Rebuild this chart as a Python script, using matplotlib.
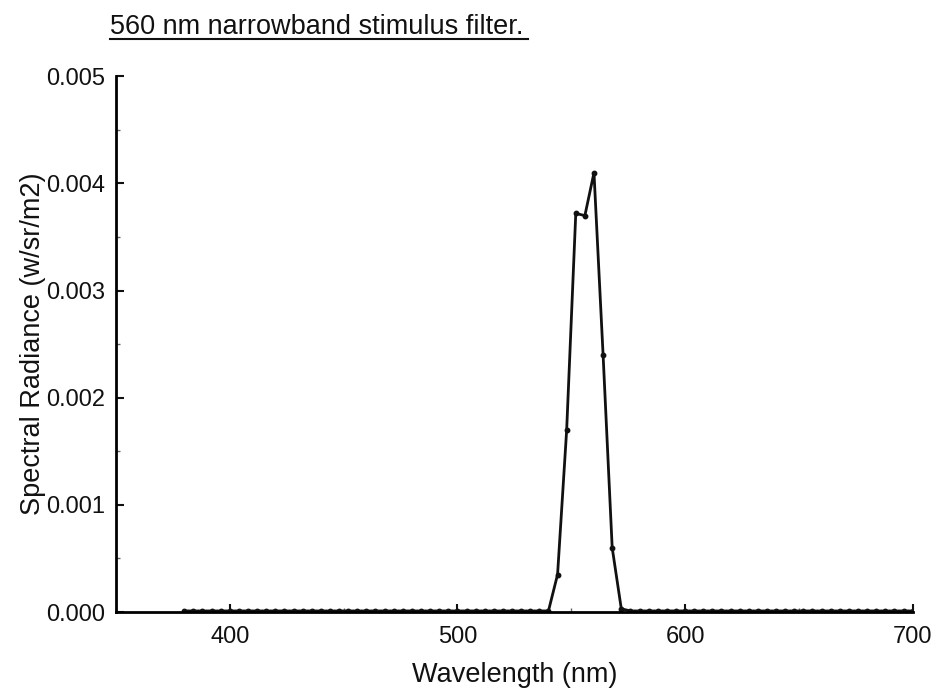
import matplotlib
matplotlib.use("Agg")
import matplotlib.pyplot as plt
from matplotlib.ticker import MultipleLocator

plt.rcParams['font.family'] = ['Liberation Sans', 'DejaVu Sans']

# region Data (4 nm steps)
wavelength = list(range(380, 704, 4))
# zero baseline except the band around 560 nm
peak_wl = [540, 544, 548, 552, 556, 560, 564, 568, 572]
peak_val = [0.00001, 0.00035, 0.0017, 0.00372, 0.0037, 0.0041, 0.0024, 0.0006, 0.00003]
baseline = 0.00001
# endregion

radiance = []
for w in wavelength:
    if w in peak_wl:
        radiance.append(peak_val[peak_wl.index(w)])
    else:
        radiance.append(baseline)

fig = plt.figure(figsize=(9.37, 7.0), dpi=100)
ax = fig.add_axes([0.1238, 0.1257, 0.8502, 0.7653])

ax.plot(wavelength, radiance, color='#111111', lw=2.0, marker='o', ms=3.2)

ax.set_xlim(350, 700)
ax.set_ylim(0, 0.005)
ax.xaxis.set_major_locator(MultipleLocator(100))
ax.xaxis.set_minor_locator(MultipleLocator(50))
ax.yaxis.set_major_locator(MultipleLocator(0.001))
ax.yaxis.set_minor_locator(MultipleLocator(0.0005))
ax.yaxis.set_major_formatter(plt.FuncFormatter(lambda v, p: '%.3f' % v))

ax.spines['top'].set_visible(False)
ax.spines['right'].set_visible(False)
ax.spines['left'].set_linewidth(2)
ax.spines['bottom'].set_linewidth(2)
ax.tick_params(direction='in', which='major', length=6, width=1.5, labelsize=17, colors='#111111')
ax.tick_params(axis='y', which='major', pad=8)
ax.tick_params(axis='x', which='major', pad=10)
ax.tick_params(direction='in', which='minor', length=3, width=1, colors='#666666')

ax.set_xlabel('Wavelength (nm)', fontsize=19.5, labelpad=10, color='#111111')
ax.set_ylabel('Spectral Radiance (w/sr/m2)', fontsize=19.5, labelpad=0, color='#111111')

fig.text(0.117, 0.961, '560 nm narrowband stimulus filter.', fontsize=19.5, ha='left', va='center',
         color='#111111')
fig.add_artist(plt.Line2D([0.117, 0.563], [0.944, 0.944], color='#111111', lw=1.5))

fig.savefig('out.png', dpi=100)
